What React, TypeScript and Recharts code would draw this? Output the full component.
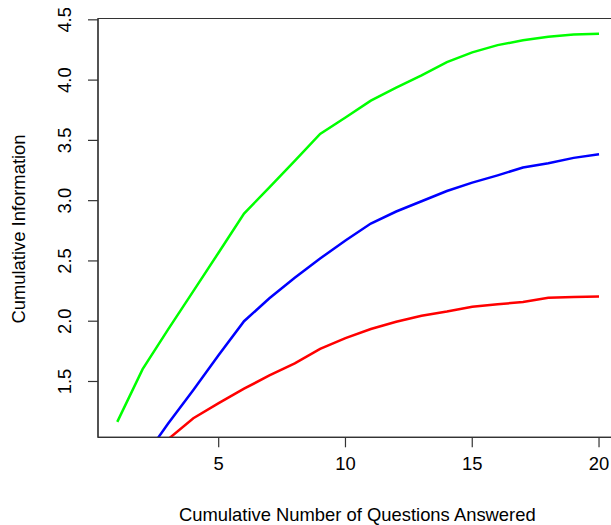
import React from "react";
import { LineChart, Line, XAxis, YAxis, ReferenceArea } from "recharts";

const questions = [1, 2, 3, 4, 5, 6, 7, 8, 9, 10, 11, 12, 13, 14, 15, 16, 17, 18, 19, 20];
const greenInfo = [1.165, 1.602, 1.93, 2.25, 2.57, 2.893, 3.11, 3.33, 3.554, 3.69, 3.83, 3.937, 4.04, 4.15, 4.23, 4.29, 4.33, 4.36, 4.379, 4.385];
const blueInfo = [0.5, 0.85, 1.15, 1.43, 1.72, 2.0, 2.19, 2.36, 2.52, 2.67, 2.81, 2.91, 2.995, 3.08, 3.15, 3.21, 3.275, 3.31, 3.355, 3.385];
const redInfo = [0.5, 0.78, 1.02, 1.195, 1.32, 1.44, 1.55, 1.65, 1.77, 1.86, 1.935, 1.995, 2.045, 2.08, 2.12, 2.14, 2.16, 2.195, 2.2, 2.205];
const xTicks = [5, 10, 15, 20];
const yTicks = [1.5, 2.0, 2.5, 3.0, 3.5, 4.0, 4.5];
const xLabel = "Cumulative Number of Questions Answered";
const yLabel = "Cumulative Information";

const data = questions.map((q, i) => ({ x: q, green: greenInfo[i], blue: blueInfo[i], red: redInfo[i] }));

const FONT = "'Liberation Sans', Arial, sans-serif";
const FS = 18.4;
const AXIS = "#333";
const X_DOMAIN: [number, number] = [0.24, 20.76];
const Y_DOMAIN: [number, number] = [1.037, 4.511];

const YTick = (props: any) => {
  const { y, payload } = props;
  const x = 63;
  return (
    <text x={x} y={y} transform={`rotate(-90, ${x}, ${y})`} textAnchor="middle" fontFamily={FONT} fontSize={FS} fill="#000">
      {Number(payload.value).toFixed(1)}
    </text>
  );
};

const XTick = (props: any) => {
  const { x, payload } = props;
  return (
    <text x={x} y={462} textAnchor="middle" fontFamily={FONT} fontSize={FS} fill="#000">
      {payload.value}
    </text>
  );
};

export default function App() {
  return (
    <div style={{ width: 611, height: 525, overflow: "hidden", position: "relative", background: "#fff" }}>
      <style>{`html, body { margin: 0; padding: 0; overflow: hidden; }`}</style>
      <div style={{ position: "absolute", left: 8, top: 8 }}>
        <LineChart width={620} height={517} data={data} margin={{ top: 10.5, right: 9.7, bottom: 27.7, left: 0 }}>
          <XAxis
            dataKey="x"
            type="number"
            domain={X_DOMAIN}
            allowDataOverflow
            ticks={xTicks}
            tickSize={10}
            height={60}
            stroke={AXIS}
            axisLine={{ stroke: AXIS, strokeWidth: 1.2 }}
            tickLine={{ stroke: AXIS, strokeWidth: 1.2 }}
            tick={<XTick />}
            label={{
              content: () => (
                <text x={349.3} y={512.5} textAnchor="middle" fontFamily={FONT} fontSize={FS} fill="#000">
                  {xLabel}
                </text>
              ),
            }}
          />
          <YAxis
            type="number"
            domain={Y_DOMAIN}
            allowDataOverflow
            ticks={yTicks}
            tickSize={10}
            width={90}
            stroke={AXIS}
            axisLine={{ stroke: AXIS, strokeWidth: 1.2 }}
            tickLine={{ stroke: AXIS, strokeWidth: 1.2 }}
            tick={<YTick />}
            label={{
              content: () => (
                <text x={17} y={221} transform={`rotate(-90, 17, 221)`} textAnchor="middle" fontFamily={FONT} fontSize={FS} fill="#000">
                  {yLabel}
                </text>
              ),
            }}
          />
          <ReferenceArea x1={X_DOMAIN[0]} x2={X_DOMAIN[1]} y1={Y_DOMAIN[0]} y2={Y_DOMAIN[1]} fill="none" fillOpacity={0} stroke={AXIS} strokeWidth={1.2} ifOverflow="extendDomain" />
          <Line type="linear" dataKey="green" stroke="#00ff00" strokeWidth={2.5} dot={false} isAnimationActive={false} />
          <Line type="linear" dataKey="blue" stroke="#0000ff" strokeWidth={2.5} dot={false} isAnimationActive={false} />
          <Line type="linear" dataKey="red" stroke="#ff0000" strokeWidth={2.5} dot={false} isAnimationActive={false} />
        </LineChart>
      </div>
    </div>
  );
}
